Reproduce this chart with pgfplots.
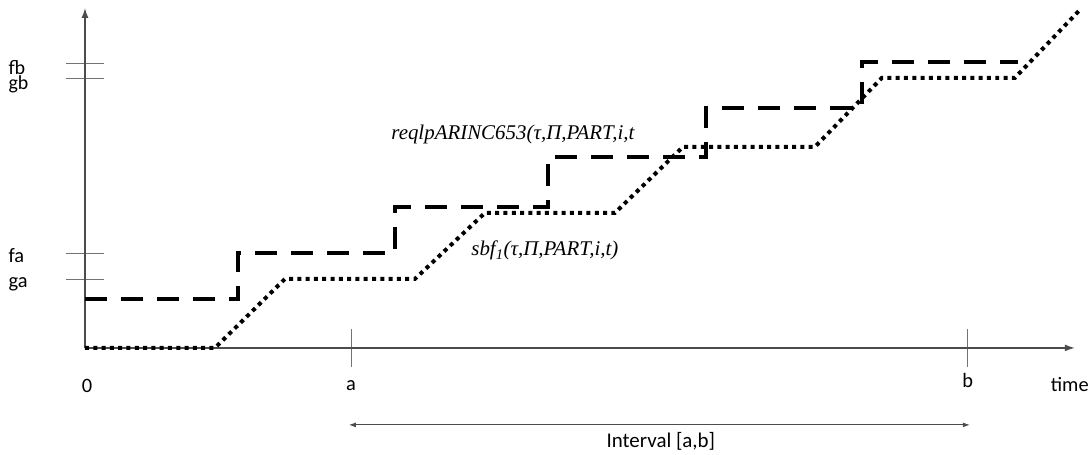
\documentclass[border=0pt]{standalone}
\usepackage{fontspec}
\setmainfont{Carlito}
\newfontfamily\tnr{Liberation Serif}
\usepackage{pgfplots}
\pgfplotsset{compat=1.18}
\usetikzlibrary{arrows.meta}

\begin{document}
\begin{tikzpicture}
\begin{axis}[
  x=1bp, y=1bp,
  xmin=0, xmax=990, ymin=0, ymax=340,
  axis lines=left,
  axis line style={draw=black!70, line width=1.3bp},
  x axis line style={-{Latex[length=10bp,width=7bp]}},
  y axis line style={-{Latex[length=10bp,width=7bp]}},
  xtick={266,883}, ytick={69,95,270,285},
  xticklabels={{},{}}, yticklabels={{},{},{},{}},
  tick align=center, major tick length=38bp,
  tick style={draw=black!55, line width=0.7bp},
  clip=false,
]
\path (axis cs:-85,-107) rectangle (axis cs:1007,348);
% dashed: reqlp
\addplot[black, line width=4.5bp, dash pattern=on 22bp off 14bp, line join=miter] coordinates {
(0,49) (153,49) (153,95) (310,95) (310,141) (463,141) (463,191) (621,191) (621,240) (777,240) (777,286) (933,286)};
% dotted: sbf
\addplot[black, line width=4bp, dash pattern=on 4bp off 4.3bp] coordinates {
(0,0) (130,0) (200,69) (330,69) (400,135) (530,135) (598,201) (730,201) (797,270) (930,270) (995,338)};
% labels
\node[anchor=base west, font=\fontsize{20}{24}\selectfont] at (axis cs:-80,273) {fb};
\node[anchor=base west, font=\fontsize{20}{24}\selectfont] at (axis cs:-80,258) {gb};
\node[anchor=base west, font=\fontsize{20.5}{24}\selectfont] at (axis cs:-80,85) {fa};
\node[anchor=base west, font=\fontsize{20.5}{24}\selectfont] at (axis cs:-80,60) {ga};
\node[anchor=base, font=\fontsize{20.5}{24}\selectfont] at (axis cs:2,-45) {0};
\node[anchor=base, font=\fontsize{20.5}{24}\selectfont] at (axis cs:266,-43) {a};
\node[anchor=base, font=\fontsize{20.5}{24}\selectfont] at (axis cs:883,-40) {b};
\node[anchor=base, font=\fontsize{20.5}{24}\selectfont] at (axis cs:985,-44) {time};
\draw[black!70, line width=0.9bp, {Latex[length=7bp,width=5bp]}-{Latex[length=7bp,width=5bp]}] (axis cs:264,-77) -- (axis cs:885,-77);
\node[anchor=base, font=\fontsize{21}{24}\selectfont] at (axis cs:576,-100) {Interval [a,b]};
\node[anchor=base, font=\tnr\itshape\fontsize{21}{24}\selectfont] at (axis cs:428,208) {reqlpARINC653(τ,Π,PART,i,t};
\node[anchor=base, font=\tnr\itshape\fontsize{21}{24}\selectfont] at (axis cs:460,92) {sbf\textsubscript{1}(τ,Π,PART,i,t)};
\end{axis}
\end{tikzpicture}
\end{document}
